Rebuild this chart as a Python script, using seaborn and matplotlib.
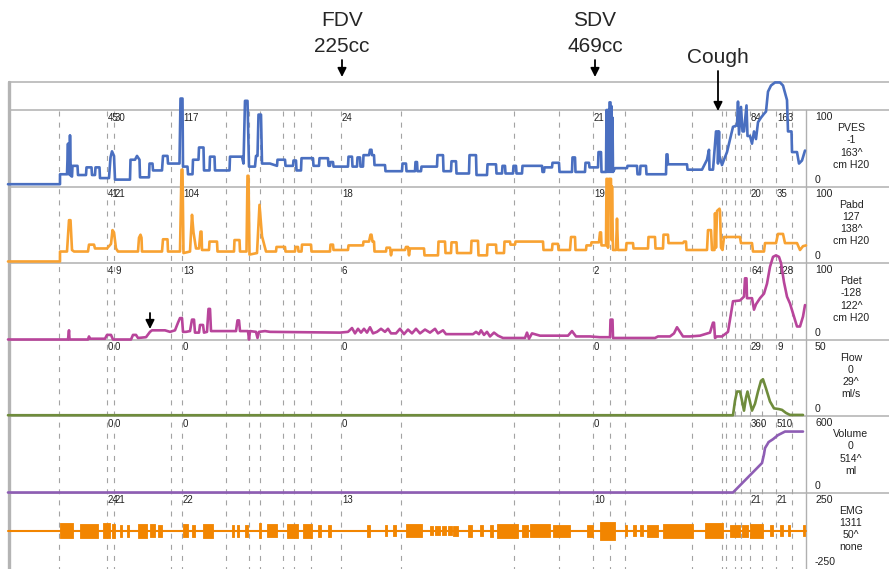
#!/usr/bin/env python3
"""Urodynamic tracing: PVES, Pabd, Pdet, flow, volume and EMG channels."""

import matplotlib.pyplot as plt
import numpy as np
import seaborn as sns

# time axis (s) of the tracing window
T_START, T_END = 8, 806

# event marks (dashed lines) and the ones that carry value readouts
EVENTS = [59, 107, 114, 171, 182, 226, 249, 260, 283, 294, 311, 341, 401,
          514, 559, 593, 610, 625, 692, 722, 726, 735, 741, 750, 762, 776, 792]
READOUT_T = [107, 114, 182, 341, 593, 750, 776]

CHANNELS = ["PVES", "Pabd", "Pdet", "Flow", "Volume", "EMG"]
READOUTS = {
    "PVES": ["45", "30", "117", "24", "21", "84", "163"],
    "Pabd": ["41", "21", "104", "18", "19", "20", "35"],
    "Pdet": ["4", "9", "13", "6", "2", "64", "128"],
    "Flow": ["0", "0", "0", "0", "0", "29", "9"],
    "Volume": ["0", "0", "0", "0", "0", "360", "510"],
    "EMG": ["24", "21", "22", "13", "10", "21", "21"],
}
SCALE_TOP = ["100", "100", "100", "50", "600", "250"]
SCALE_BOTTOM = ["0", "0", "0", "0", "0", "-250"]
SIDE_INFO = {
    "PVES": ["-1", "163^", "cm H20"],
    "Pabd": ["127", "138^", "cm H20"],
    "Pdet": ["-128", "122^", "cm H20"],
    "Flow": ["0", "29^", "ml/s"],
    "Volume": ["0", "514^", "ml"],
    "EMG": ["1311", "50^", "none"],
}
YLIMS = [(0, 100), (0, 100), (0, 100), (0, 50), (0, 600), (-250, 250)]
COLORS = ["#4A6FC0", "#F8A232", "#B8459B", "#6F8C3C", "#8E5DB4", "#F28500"]

# PVES, cm H2O
pves_t = [8, 60, 60, 67, 68, 68.6, 69.5, 70, 70.8, 72, 72.5, 77.5, 78, 86, 86.5,
          91.5, 92, 95, 95.5, 99.5, 100, 109, 110.5, 112, 114, 115, 130, 130.5,
          135, 137, 139.5, 140, 149, 149.5, 152.5, 153, 162, 163, 167.5, 168,
          179.5, 180.5, 182.5, 183, 187.5, 188, 192.5, 193, 198.5, 199, 203.5,
          204, 209.5, 210, 214.5, 215, 229.5, 230, 242, 243.5, 245, 247.5, 249,
          255, 256, 257.5, 258.5, 261, 262, 270, 277, 277.5, 285, 285.5, 293,
          293.5, 296, 296.5, 301, 301.5, 313, 313.5, 319, 319.5, 328, 328.5, 330,
          330.5, 333, 333.5, 348, 348.5, 352, 352.5, 357, 357.5, 360, 360.5, 363,
          363.5, 369, 370, 371.5, 372, 374, 374.5, 385, 385.5, 402, 402.5, 406,
          406.5, 415, 415.5, 417, 417.5, 421, 421.5, 437, 437.5, 443, 443.5, 451,
          451.5, 456, 456.5, 469, 469.5, 476, 476.5, 487, 487.5, 496, 496.5, 502,
          502.5, 505, 505.5, 513, 513.5, 516, 516.5, 522, 522.5, 542, 542.5, 544,
          544.5, 552, 552.5, 559, 559.5, 572, 572.5, 575, 575.5, 585, 585.5, 589,
          589.5, 598, 598.5, 601, 601.5, 606, 606.5, 607, 607.5, 608.5, 609,
          609.5, 610.5, 611, 611.5, 612, 612.5, 613, 615, 627, 627.5, 637, 637.5,
          640, 640.5, 646, 646.5, 666, 666.5, 667.5, 668, 687, 687.5, 702, 707,
          709, 709.5, 713, 713.5, 716, 717.5, 718, 719, 719.5, 722, 724, 727, 733,
          737, 738, 739, 741, 742.5, 744, 746.5, 747.5, 750, 752, 754, 756, 758,
          761, 764, 766, 768, 771, 775, 780, 783, 786, 787, 788, 791.5, 792, 797,
          799, 802, 805]
pves_v = [3, 3, 16, 16, 56, 16, 16, 67, 14, 13, 27, 27, 15, 15, 25,
          25, 15, 15, 25, 25, 11, 11, 38, 46, 40, 9, 9, 35,
          35, 40, 35, 12, 12, 30, 30, 21, 21, 40, 40, 30,
          30, 115, 115, 26, 26, 16, 16, 35, 35, 51, 51,
          21, 21, 39, 39, 21, 21, 39, 39, 30, 112, 112, 26,
          26, 40, 40, 94, 94, 30, 30, 27, 35, 35, 27, 27,
          34, 34, 21, 21, 37, 37, 27, 27, 37, 37, 27, 27,
          32, 32, 26, 26, 39, 39, 26, 26, 38, 38, 26, 26,
          41, 41, 48, 48, 41, 41, 28, 28, 20, 20, 30, 30,
          20, 20, 32, 32, 20, 20, 26, 26, 41, 41, 20, 20,
          33, 33, 17, 17, 41, 41, 15, 15, 29, 29, 17, 17,
          27, 27, 17, 17, 27, 27, 17, 17, 27, 27, 19, 19,
          25, 25, 31, 31, 19, 19, 38, 38, 19, 19, 31, 31,
          25, 25, 45, 45, 19, 19, 100, 19, 100, 100, 19,
          110, 110, 19, 105, 30, 90, 19, 24, 24, 27, 27, 16,
          16, 27, 27, 16, 16, 42, 42, 29, 29, 22, 22, 35,
          48, 22, 22, 30, 72, 72, 30, 72, 40, 28, 35, 45, 78,
          80, 111, 68, 104, 72, 72, 106, 66, 66, 56, 72, 62, 84,
          90, 95, 98, 124, 132, 136, 136, 132, 118, 113, 72, 72, 45, 45,
          30, 34, 47]

# Pabd, cm H2O
pabd_t = [8, 60, 60, 67, 69, 70.5, 72, 74, 88, 89, 94, 95, 107, 111, 112.5, 114,
          116, 118, 138, 139, 140.5, 141.5, 142, 162, 163, 167.5, 168, 180,
          181.5, 182.5, 183.5, 190, 192, 193.5, 196, 199, 200.5, 201.5, 202, 209,
          209.5, 217, 217.5, 234, 234.5, 239.5, 240, 246.5, 247.5, 248.5, 249.5,
          257, 259.5, 262, 266, 276, 276.5, 285, 285.5, 295, 295.5, 298, 298.5,
          301.5, 302, 311, 311.5, 330, 330.5, 333, 333.5, 348, 348.5, 363, 363.5,
          369, 370.5, 371.5, 372.5, 374, 374.5, 386, 386.5, 390, 391, 392, 405,
          406, 408, 409, 410, 424, 424.5, 438, 438.5, 445, 445.5, 451, 451.5,
          456.5, 457, 471, 471.5, 478, 478.5, 487, 487.5, 496, 496.5, 504, 504.5,
          510, 510.5, 515, 515.5, 543, 543.5, 552, 552.5, 558, 558.5, 570, 571,
          575, 575.5, 586, 586.5, 591, 591.5, 599, 600, 601, 601.5, 606, 606.5,
          607.5, 608, 609, 611, 611.5, 612, 613, 616, 617, 618, 626, 626.5, 633,
          633.5, 648, 648.5, 655, 655.5, 663, 663.5, 668, 668.5, 683, 684, 686,
          686.5, 707, 708, 711, 712, 714.5, 715, 716, 717, 719.5, 720, 721, 722.5,
          724, 740, 741, 752, 753, 764, 765, 776, 778, 783, 785, 797, 800, 803,
          806]
pabd_v = [2, 2, 15, 15, 56, 56, 17, 15, 15, 24, 24, 19, 19, 25, 43, 40,
          19, 15, 15, 33, 37, 33, 15, 15, 31, 31, 15, 15,
          122, 122, 13, 15, 63, 40, 19, 19, 41, 41, 17, 17,
          28, 28, 15, 15, 30, 30, 15, 15, 114, 114, 11,
          13, 76, 35, 15, 15, 21, 21, 15, 15, 21, 21, 15,
          15, 24, 24, 15, 15, 24, 24, 17, 17, 23, 23, 28,
          28, 37, 37, 28, 28, 15, 15, 20, 20, 10, 17, 17,
          21, 21, 10, 19, 19, 10, 10, 28, 28, 13, 13, 27,
          27, 13, 13, 29, 29, 10, 10, 24, 24, 13, 13, 28,
          28, 24, 24, 28, 28, 17, 17, 25, 25, 17, 17, 34,
          34, 17, 17, 23, 23, 27, 27, 40, 40, 23, 23, 110,
          110, 20, 110, 110, 30, 100, 17, 17, 58, 17, 17, 26, 26,
          19, 19, 34, 34, 19, 19, 37, 37, 26, 26, 28, 28,
          17, 17, 43, 43, 17, 17, 65, 20, 68, 71, 68, 20, 17,
          34, 34, 26, 26, 15, 15, 26, 26, 38, 38, 26, 26, 17, 22,
          23]

# Pdet, cm H2O
pdet_t = [8, 68, 69, 69.5, 88, 89, 90, 105, 107, 111, 113, 131, 133, 136, 138,
          146, 150, 152, 165, 170, 175, 178, 180, 182, 183, 186, 190, 192, 194,
          195, 199, 200, 203, 204, 207, 208.5, 210, 211, 236, 237.5, 239, 240,
          248, 249, 250, 256, 257.5, 259, 265, 270, 340, 348, 352, 355, 358, 361,
          364, 367, 370, 373, 377, 381, 385, 388, 391, 396, 400, 404, 408, 412,
          416, 420, 425, 430, 435, 438, 443, 446, 473, 476, 479, 481, 484, 487,
          490, 494, 498, 503, 525, 527, 529, 532, 540, 568, 572, 576, 590, 600,
          610, 610.5, 612.5, 613, 655, 658, 670, 674, 677, 680, 683, 690, 700,
          705, 710, 713, 714, 715, 717, 722, 728, 733, 740, 744, 745, 746.5, 747,
          752, 754, 756, 760, 764, 767, 770, 773, 776, 779, 781, 784, 787, 790,
          794, 797, 800, 803, 805]
pdet_v = [0, 0, 12, 0, 0, 4, 1, 1, 6, 6, 0, 0, 6, 6, 2,
          3, 10, 12, 12, 10, 12, 22, 28, 28, 10, 10, 11, 26, 26,
          9, 9, 19, 19, 9, 10, 40, 40, 11, 11, 25, 25, 11,
          11, 0, 11, 10, 2, 10, 11, 10, 9, 10, 15, 8, 14, 9,
          14, 9, 16, 8, 10, 14, 10, 14, 8, 8, 14, 7, 13, 8,
          14, 8, 13, 9, 14, 8, 12, 7, 7, 10, 7, 12, 6, 10,
          4, 9, 5, 2, 2, 9, 1, 8, 5, 5, 11, 4, 4, 3,
          3, 26, 26, 2, 2, 4, 4, 8, 16, 10, 4, 4, 5,
          7, 9, 22, 22, 2, 4, 4, 10, 50, 51, 56, 80, 80, 54,
          54, 39, 46, 54, 60, 73, 95, 108, 110, 108, 100, 75, 56, 47,
          30, 17, 17, 30, 45]

# uroflow, ml/s
flow_t = [8, 733, 735, 737, 740, 742, 744, 746, 747.5, 749, 752, 755, 758, 761,
          763, 766, 770, 774, 779, 782, 786, 790, 803]
flow_v = [0.5, 0.5, 10, 16, 16, 10, 3.5, 12, 16, 12, 3.5, 8, 16, 23,
          24, 18, 9.5, 5, 4.5, 4, 2, 0.7, 0.7]

# voided volume, ml
vol_t = [8, 733, 762, 764, 765, 768, 768.5, 773, 778, 785, 803]
vol_v = [0, 0, 231, 300, 348, 387, 395, 418, 450, 478, 478]

# EMG bursts: start, end (s) and half amplitude
emg_start = [60, 80, 103, 112, 120, 127, 138, 150, 158, 183, 192, 203, 232, 237,
             245, 259, 267, 287, 303, 318, 328, 367, 385, 393, 406, 430, 435,
             442, 448, 453, 468, 480, 490, 497, 522, 530, 553, 587, 600, 625,
             633, 640, 647, 663, 705, 730, 742, 750, 770, 780, 788, 803]
emg_end = [73, 98, 110, 115, 122, 129, 147, 155, 162, 188, 195, 213, 234, 239,
           248, 261, 277, 298, 312, 321, 331, 370, 387, 396, 422, 433, 440,
           446, 452, 458, 472, 483, 493, 518, 528, 550, 570, 593, 615, 627,
           636, 643, 658, 693, 723, 740, 748, 763, 773, 783, 790, 805]
emg_amp = [48, 45, 48, 45, 40, 40, 45, 42, 38, 42, 40, 45, 38, 38,
           40, 48, 42, 45, 45, 38, 38, 38, 35, 35, 42, 30, 30,
           28, 30, 32, 38, 35, 38, 45, 40, 42, 40, 38, 60, 35,
           35, 35, 40, 45, 48, 40, 40, 45, 35, 35, 35, 35]

# annotations above the tracing
FDV_T, SDV_T, COUGH_T, MARK_T = 342, 595, 718, 150

W, H = 889, 569
FRAME_TOP = 82
PANEL_EDGES = [110, 186.5, 263, 339.5, 416, 492.5, 569]
GRID = "#b0b0b0"


def draw():
    sns.set_theme(style="white")
    plt.rcParams["font.family"] = ["Liberation Sans", "DejaVu Sans"]

    fig = plt.figure(figsize=(W / 100, H / 100), dpi=100)
    bg = fig.add_axes([0, 0, 1, 1])
    bg.set_xlim(0, W)
    bg.set_ylim(H, 0)
    bg.axis("off")

    # frame
    for y in [FRAME_TOP] + PANEL_EDGES[:-1]:
        bg.plot([T_START, W], [y, y], color=GRID, lw=1.1, solid_capstyle="butt")
    bg.plot([8.5, 8.5], [FRAME_TOP, H], color="#b4b4b4", lw=2.4)
    bg.plot([T_END, T_END], [PANEL_EDGES[0], H], color=GRID, lw=1.0)
    bg.vlines(EVENTS, PANEL_EDGES[0] + 1, H, colors="#a3a3a3", lw=0.8,
              linestyles=(0, (4.5, 5.5)))

    series = [(pves_t, pves_v), (pabd_t, pabd_v), (pdet_t, pdet_v),
              (flow_t, flow_v), (vol_t, vol_v)]

    for i, name in enumerate(CHANNELS):
        top, bot = PANEL_EDGES[i], PANEL_EDGES[i + 1]
        ax = fig.add_axes([T_START / W, (H - bot) / H,
                           (T_END - T_START) / W, (bot - top) / H])
        ax.set_xlim(T_START, T_END)
        ax.set_ylim(*YLIMS[i])
        ax.axis("off")
        ax.patch.set_alpha(0)

        if name == "EMG":
            ax.plot([T_START, T_END], [0, 0], color=COLORS[i], lw=1.5,
                    clip_on=False)
            for s, e, a in zip(emg_start, emg_end, emg_amp):
                ax.fill_between([s, e], [-a, -a], [a, a], color=COLORS[i],
                                lw=0.6, clip_on=False)
        else:
            t, v = series[i]
            sns.lineplot(x=np.array(t, float), y=np.array(v, float), ax=ax,
                         estimator=None, sort=False, color=COLORS[i],
                         linewidth=1.9, clip_on=False, legend=False)
            ax.axis("off")

        # readouts beside the event marks
        for t0, lab in zip(READOUT_T, READOUTS[name]):
            bg.text(t0 + 1, top + 7.5, lab, fontsize=7, color="#222222",
                    ha="left", va="center")

        # right-hand scale and channel info
        bg.text(815, top + 7, SCALE_TOP[i], fontsize=7.6, color="#222222",
                ha="left", va="center")
        bg.text(815, top + 69.5, SCALE_BOTTOM[i], fontsize=7.6,
                color="#222222", ha="left", va="center")
        for k, txt in enumerate([name] + SIDE_INFO[name]):
            bg.text(851, top + 18 + 12.3 * k, txt, fontsize=7.6,
                    color="#222222", ha="center", va="center")

    # annotations
    arrow = dict(arrowstyle="-|>", color="black", lw=1.3, mutation_scale=13,
                 shrinkA=0, shrinkB=0)
    for t0, line1, line2 in [(FDV_T, "FDV", "225cc"), (SDV_T, "SDV", "469cc")]:
        bg.text(t0, 20, line1, fontsize=15, ha="center", va="center")
        bg.text(t0, 46, line2, fontsize=15, ha="center", va="center")
        bg.annotate("", xy=(t0, 77), xytext=(t0, 60), arrowprops=arrow)
    bg.text(COUGH_T, 57, "Cough", fontsize=15, ha="center", va="center")
    bg.annotate("", xy=(COUGH_T, 111), xytext=(COUGH_T, 71), arrowprops=arrow)
    bg.annotate("", xy=(MARK_T, 329), xytext=(MARK_T, 313), arrowprops=arrow)

    fig.savefig("out.png", dpi=100, facecolor="white")
    plt.close(fig)


if __name__ == "__main__":
    draw()
